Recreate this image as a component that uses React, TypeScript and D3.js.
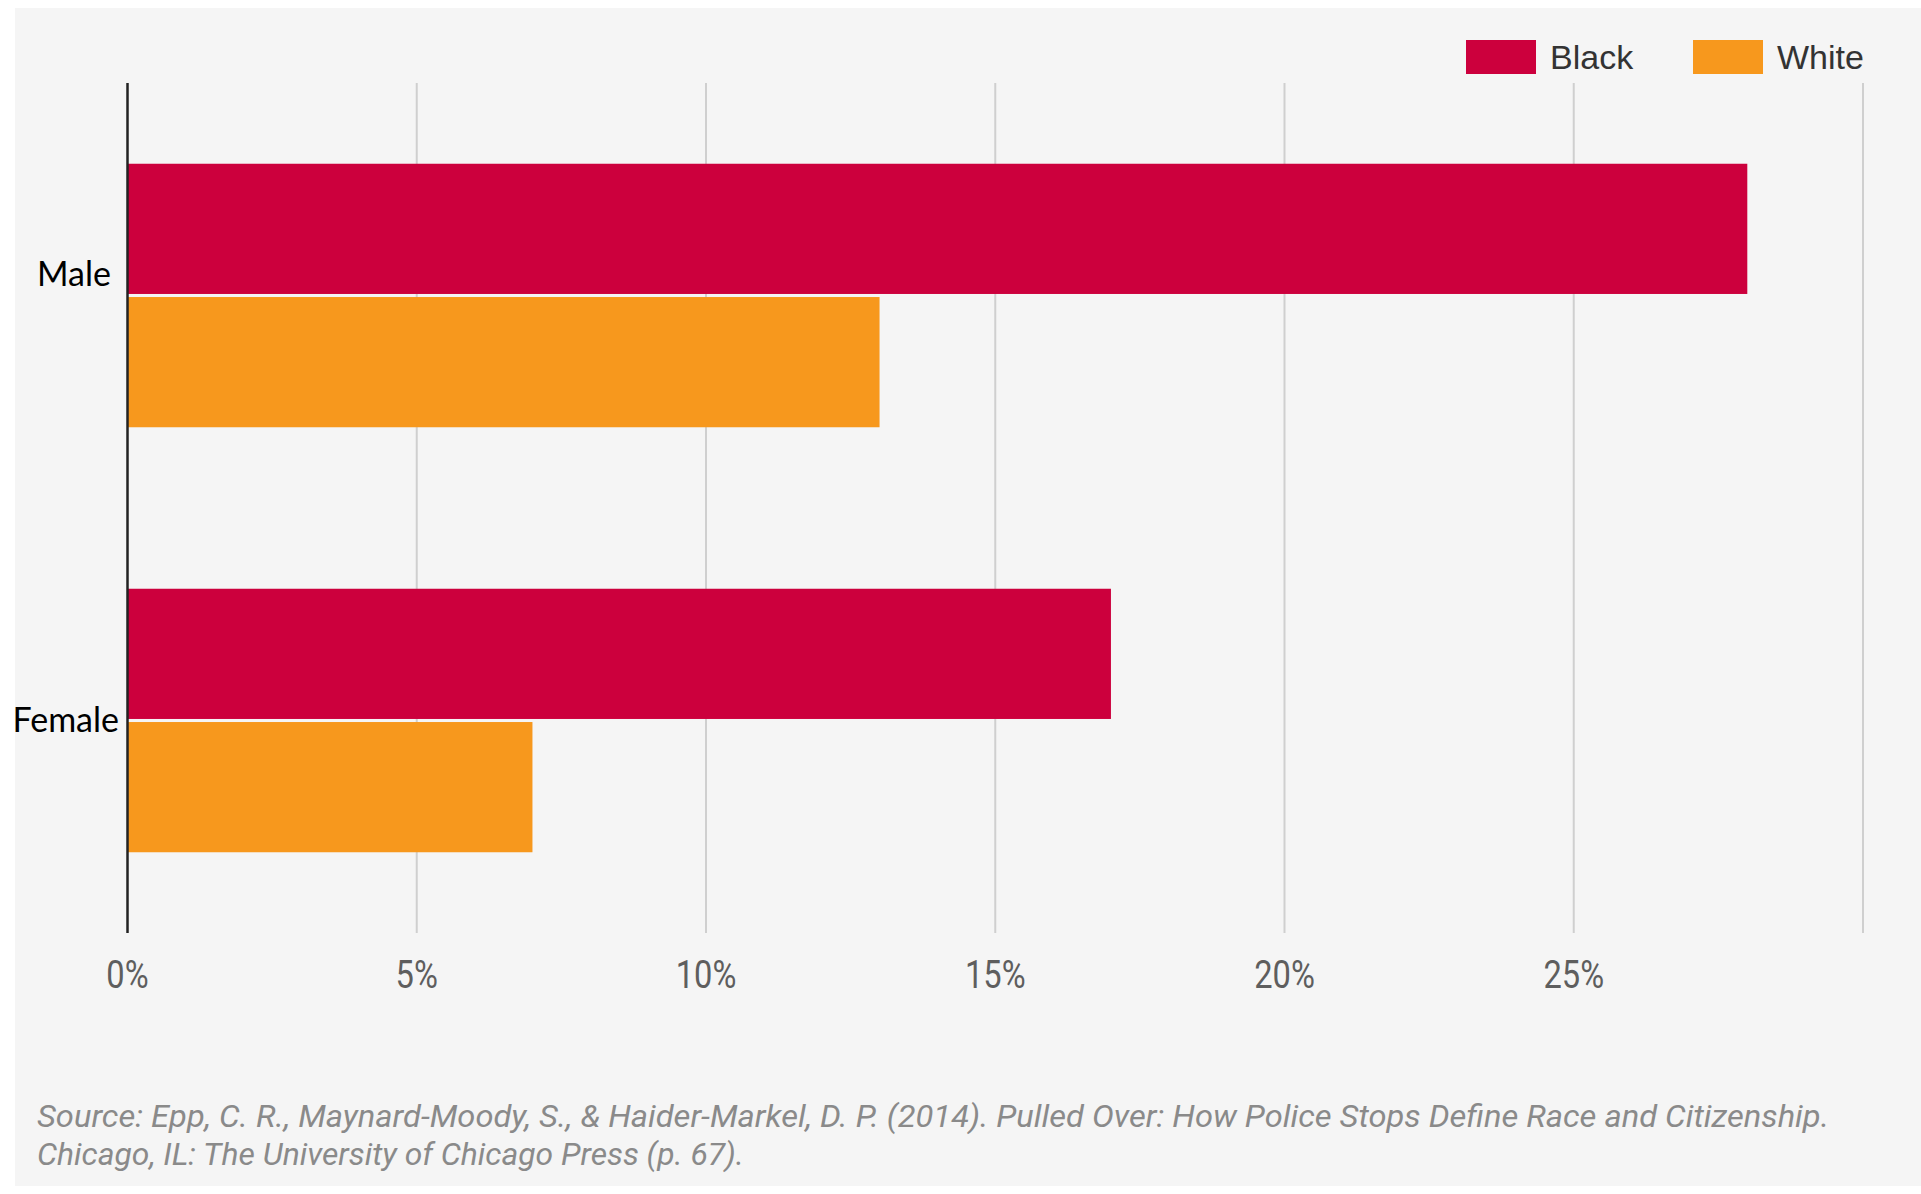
import * as React from 'react';
import * as d3 from 'd3';

const categories = ['Male', 'Female'];
const seriesNames = ['Black', 'White'];
const blackValues = [28, 17];
const whiteValues = [13, 7];
const tickValues = [0, 5, 10, 15, 20, 25];
const gridValues = [5, 10, 15, 20, 25, 30];
const seriesColors = ['#cc003d', '#f7981d'];
const sourceLines = [
    'Source: Epp, C. R., Maynard-Moody, S., & Haider-Markel, D. P. (2014). Pulled Over: How Police Stops Define Race and Citizenship.',
    'Chicago, IL: The University of Chicago Press (p. 67).'
];

const width = 1921;
const height = 1194;
const plot = { left: 127.5, right: 1863, top: 83, bottom: 933 };
// the category labels in the original are not centred the same way
const labelShift: Record<string, { dx: number, dy: number }> = {
    Male: { dx: -7, dy: -21 },
    Female: { dx: 1, dy: 0 }
};
const sourceWidths = [1792, 707];

export default function App() {
    const x = d3.scaleLinear().domain([0, 30]).range([plot.left, plot.right]);
    const y0 = d3.scaleBand<string>()
        .domain(categories)
        .range([plot.top, plot.bottom])
        .paddingInner(0.38)
        .paddingOuter(0.19);
    const y1 = d3.scaleBand<string>()
        .domain(seriesNames)
        .range([0, y0.bandwidth()])
        .paddingInner(0.023);

    const rows = categories.map((c, i) => ({
        category: c,
        values: [blackValues[i], whiteValues[i]]
    }));

    return (
        <svg width={width} height={height}
            style={{ position: 'absolute', left: 0, top: 0, display: 'block' }}>
            <rect x={15} y={8} width={width - 15} height={1178} fill="#f5f5f5" />

            {gridValues.map(v => (
                <line key={v} x1={x(v)} x2={x(v)} y1={plot.top} y2={plot.bottom}
                    stroke="#cfcfcf" strokeWidth={2} />
            ))}

            {rows.map(r => (
                <g key={r.category} transform={`translate(0,${y0(r.category)})`}>
                    {r.values.map((v, j) => (
                        <rect key={j}
                            x={x(0)}
                            y={y1(seriesNames[j])}
                            width={x(v) - x(0)}
                            height={y1.bandwidth()}
                            fill={seriesColors[j]} />
                    ))}
                    <text x={118 + labelShift[r.category].dx}
                        y={y0.bandwidth() / 2 + labelShift[r.category].dy}
                        dy="0.35em" textAnchor="end"
                        fontFamily="Lato, 'Open Sans', sans-serif" fontSize={34} fill="#000">
                        {r.category}
                    </text>
                </g>
            ))}

            <line x1={plot.left} x2={plot.left} y1={plot.top} y2={plot.bottom}
                stroke="#222" strokeWidth={2.5} />

            {tickValues.map(v => (
                <text key={v} transform={`translate(${x(v)},974) scale(0.86,1)`} dy="0.36em"
                    textAnchor="middle"
                    fontFamily="Roboto, sans-serif" fontSize={38} fill="#5e5e5e">
                    {v + '%'}
                </text>
            ))}

            {seriesNames.map((s, i) => {
                const lx = [1466, 1693][i];
                return (
                    <g key={s}>
                        <rect x={lx} y={40} width={70} height={34} fill={seriesColors[i]} />
                        <text x={lx + 84} y={57} dy="0.35em"
                            fontFamily="'Liberation Sans', Arial, sans-serif" fontSize={34} fill="#333">
                            {s}
                        </text>
                    </g>
                );
            })}

            {sourceLines.map((t, i) => (
                <text key={i} x={37} y={[1116, 1154][i]} dy="0.35em"
                    fontFamily="Roboto, sans-serif" fontStyle="italic"
                    fontSize={32} fill="#8a8a8a"
                    textLength={sourceWidths[i]}
                    lengthAdjust="spacingAndGlyphs">
                    {t}
                </text>
            ))}
        </svg>
    );
}
